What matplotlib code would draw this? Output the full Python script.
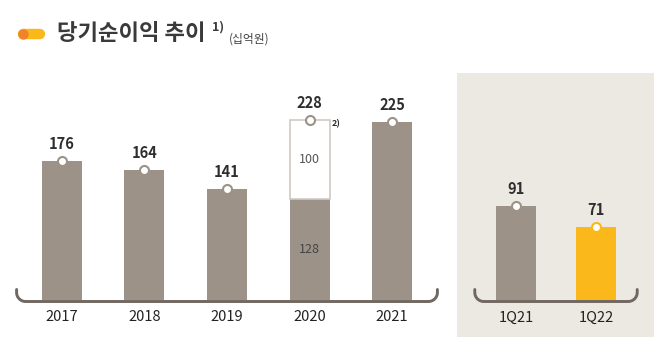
import numpy as np
import matplotlib
matplotlib.use("Agg")
import matplotlib.pyplot as plt
from matplotlib.patches import Rectangle

plt.rcParams['font.family'] = ['Noto Sans CJK KR', 'DejaVu Sans']

# data
years = ['2017', '2018', '2019', '2020', '2021']
annual = [176, 164, 141, 228, 225]
base_2020 = 128      # 2020 split: recurring part
extra_2020 = 100     # 2020 split: one-off part
quarters = ['1Q21', '1Q22']
quarterly = [91, 71]

GRAY = '#9C9288'
YELLOW = '#FBB81B'
ORANGE = '#F0822A'
BRACKET = '#6F6760'
BG = '#ECE9E3'
TXT = '#2E2E2E'

W, H = 668, 352
fig = plt.figure(figsize=(W / 100, H / 100), dpi=100)


def px_axes(left, base, width, height):
    # position axes by pixel: left edge, baseline (from top), width, height
    return fig.add_axes([left / W, 1 - base / H, width / W, height / H])


def bracket(ax, w_px, h_px):
    r, rise, off = 9, 12, 1.5
    rx, ry, top, y0 = r / w_px, r / h_px, rise / h_px, -off / h_px
    t1 = np.linspace(np.pi, 1.5 * np.pi, 20)
    t2 = np.linspace(1.5 * np.pi, 2 * np.pi, 20)
    xs = np.concatenate([[0], rx + rx * np.cos(t1), 1 - rx + rx * np.cos(t2), [1]])
    ys = np.concatenate([[y0 + top], y0 + ry + ry * np.sin(t1),
                         y0 + ry + ry * np.sin(t2), [y0 + top]])
    ax.plot(xs, ys, color=BRACKET, lw=2.1, transform=ax.transAxes,
            clip_on=False, zorder=5, solid_capstyle='round')


def clean(ax):
    for s in ax.spines.values():
        s.set_visible(False)
    ax.set_yticks([])
    ax.tick_params(axis='x', length=0, pad=7.5, labelsize=10.5, labelcolor='#222222')
    ax.patch.set_alpha(0)


# quarterly background panel
fig.add_artist(Rectangle((457 / W, 1 - 337 / H), 197 / W, 264 / H,
                         transform=fig.transFigure, facecolor=BG,
                         edgecolor='none', zorder=-1))

# ---- annual
sy = 0.79
ax = px_axes(16.6, 300, 420.8, 260 * sy)
x = np.arange(len(years))
gray_h = [base_2020 if y == '2020' else v for y, v in zip(years, annual)]
ax.bar(x, gray_h, width=0.485, color=GRAY, zorder=2)
i20 = years.index('2020')
ax.bar(i20, extra_2020, bottom=base_2020, width=0.485, facecolor='white',
       edgecolor='#CFCAC5', linewidth=1.2, zorder=2)
ax.plot(x, annual, 'o', ms=6.5, mfc='white', mec=GRAY, mew=1.5, zorder=4,
        clip_on=False)
for xi, v in zip(x, annual):
    ax.annotate(str(v), (xi, v), xytext=(0, 6.5), textcoords='offset points',
                ha='center', va='bottom', fontsize=10.5, fontweight='bold',
                color=TXT)
ax.annotate('2)', (i20, annual[i20]), xytext=(19, -3), textcoords='offset points',
            ha='center', va='center', fontsize=6.5, fontweight='bold', color=TXT)
ax.text(i20, base_2020 + extra_2020 / 2, str(extra_2020), ha='center',
        va='center', fontsize=9, color='#555555')
ax.text(i20, base_2020 / 2, str(base_2020), ha='center', va='center',
        fontsize=9, color='#444444')
ax.set_xlim(-0.55, 4.55)
ax.set_ylim(0, 260)
ax.set_xticks(x, years)
clean(ax)
bracket(ax, 420.8, 260 * sy)

# ---- quarterly
sq = 1.03
ax2 = px_axes(474.8, 300, 162.4, 190 * sq)
xq = np.arange(len(quarters))
qcol = [GRAY, YELLOW]
ax2.bar(xq, quarterly, width=0.5, color=qcol, zorder=2)
for xi, v, c in zip(xq, quarterly, qcol):
    ax2.plot(xi, v, 'o', ms=6.5, mfc='white', mec=c, mew=1.5, zorder=4,
             clip_on=False)
    ax2.annotate(str(v), (xi, v), xytext=(0, 6.5), textcoords='offset points',
                 ha='center', va='bottom', fontsize=10.5, fontweight='bold',
                 color=TXT)
ax2.set_xlim(-0.515, 1.515)
ax2.set_ylim(0, 190)
ax2.set_xticks(xq, quarters)
clean(ax2)
bracket(ax2, 162.4, 190 * sq)

# ---- title with pill icon
fig.add_artist(plt.Line2D([23 / W, 40 / W], [1 - 34 / H, 1 - 34 / H],
                          transform=fig.transFigure, color=YELLOW, lw=7.5,
                          solid_capstyle='round'))
fig.add_artist(plt.Line2D([22.5 / W], [1 - 34 / H], transform=fig.transFigure,
                          marker='o', ms=7.5, mfc=ORANGE, mec='none'))
fig.text(57 / W, 1 - 34 / H, '당기순이익 추이', fontsize=16, fontweight='bold',
         color='#3A3A3A', va='center', ha='left')
fig.text(212 / W, 1 - 27 / H, '1)', fontsize=9, fontweight='bold',
         color='#3A3A3A', va='center', ha='left')
fig.text(229 / W, 1 - 39 / H, '(십억원)', fontsize=8.5, color='#444444',
         va='center', ha='left')

fig.savefig('out.png', dpi=100)
